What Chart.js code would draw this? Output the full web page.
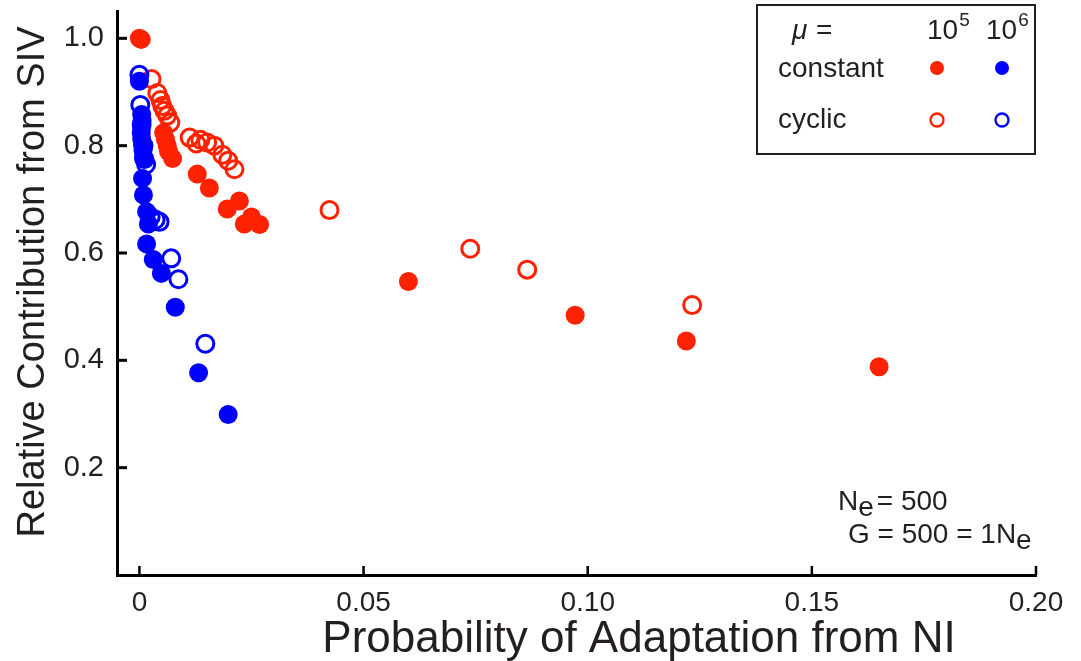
<!DOCTYPE html>
<html><head><meta charset="utf-8">
<script src="https://cdn.jsdelivr.net/npm/chart.js@4/dist/chart.umd.min.js"></script>
<style>html,body{margin:0;padding:0;background:#fff}#wrap{width:1081px;height:661px}</style>
</head><body><div id="wrap"><canvas id="c" width="1081" height="661"></canvas></div>
<script>
// ---- data ----
const redConstX = [0, 0.0004, 0.0054, 0.0058, 0.0062, 0.0065, 0.0074, 0.0129, 0.0156, 0.0196, 0.0223, 0.0234, 0.025, 0.0268, 0.060, 0.0972, 0.122, 0.165];
const redConstY = [1.0, 0.998, 0.824, 0.812, 0.800, 0.789, 0.776, 0.747, 0.721, 0.682, 0.697, 0.654, 0.667, 0.653, 0.547, 0.484, 0.436, 0.388];
const redCycX = [0.0027, 0.004, 0.0047, 0.0051, 0.0056, 0.0062, 0.0069, 0.0112, 0.0127, 0.0136, 0.0151, 0.0167, 0.0185, 0.0198, 0.0212, 0.0424, 0.0738, 0.0865, 0.1233];
const redCycY = [0.924, 0.898, 0.885, 0.874, 0.865, 0.856, 0.843, 0.815, 0.804, 0.811, 0.806, 0.800, 0.783, 0.772, 0.756, 0.680, 0.608, 0.569, 0.503];
const blueConstX = [0, 0.0005, 0.0006, 0.0005, 0.0004, 0.0005, 0.0007, 0.0008, 0.0009, 0.0007, 0.0009, 0.0016, 0.002, 0.0016, 0.0031, 0.0049, 0.008, 0.0132, 0.0198];
const blueConstY = [0.92, 0.858, 0.847, 0.835, 0.824, 0.813, 0.802, 0.791, 0.778, 0.739, 0.708, 0.677, 0.654, 0.617, 0.588, 0.562, 0.499, 0.377, 0.299];
const blueCycX = [0, 0.0002, 0.0005, 0.0009, 0.0011, 0.0015, 0.0025, 0.0036, 0.0045, 0.0071, 0.0087, 0.0147];
const blueCycY = [0.932, 0.876, 0.84, 0.80, 0.775, 0.765, 0.667, 0.662, 0.658, 0.590, 0.551, 0.431];
const xTicks = [0, 0.05, 0.10, 0.15, 0.20];
const xTickLabels = ["0", "0.05", "0.10", "0.15", "0.20"];
const yTicks = [0.2, 0.4, 0.6, 0.8, 1.0];
const yTickLabels = ["0.2", "0.4", "0.6", "0.8", "1.0"];
const xTitle = 'Probability of Adaptation from NI';
const yTitle = 'Relative Contribution from SIV';

const RED = 'rgb(255,34,0)';
const BLUE = 'rgb(0,0,255)';
const TXT = '#231f20';
const FAM = '"Liberation Sans", Arial, sans-serif';
const zip = (xs, ys) => xs.map((x, i) => ({x, y: ys[i]}));

const inwardTicks = {
  id: 'inwardTicks',
  afterDraw(chart) {
    const ctx = chart.ctx, xs = chart.scales.x, ys = chart.scales.y, a = chart.chartArea;
    ctx.save();
    ctx.strokeStyle = '#000';
    ctx.lineWidth = 3;
    yTicks.forEach(v => { const p = ys.getPixelForValue(v); ctx.beginPath(); ctx.moveTo(a.left, p); ctx.lineTo(a.left + 10, p); ctx.stroke(); });
    ctx.lineWidth = 2.5;
    xTicks.forEach(v => { const p = xs.getPixelForValue(v); ctx.beginPath(); ctx.moveTo(p, a.bottom); ctx.lineTo(p, a.bottom - 9); ctx.stroke(); });
    ctx.restore();
  }
};

const annotations = {
  id: 'annotations',
  afterDraw(chart) {
    const ctx = chart.ctx;
    ctx.save();
    ctx.fillStyle = TXT;
    ctx.textBaseline = 'alphabetic';
    ctx.textAlign = 'left';
    // axis titles
    ctx.font = '44px ' + FAM;
    ctx.textAlign = 'center';
    ctx.fillText(xTitle, 639, 652);
    ctx.save();
    ctx.translate(44, 282);
    ctx.rotate(-Math.PI / 2);
    ctx.font = '38px ' + FAM;
    ctx.fillText(yTitle, 0, 0);
    ctx.restore();
    ctx.textAlign = 'left';
    // legend box
    const f = '28px ' + FAM;
    ctx.strokeStyle = TXT; ctx.lineWidth = 2;
    ctx.strokeRect(757, 5, 278, 149);
    ctx.font = 'italic 28px ' + FAM;
    ctx.fillText('\u03bc', 792, 39);
    ctx.font = f;
    ctx.fillText('=', 816, 39);
    const w10 = ctx.measureText('10').width;
    ctx.fillText('10', 927, 39);
    ctx.fillText('10', 986, 39);
    ctx.font = '19px ' + FAM;
    ctx.fillText('5', 927 + w10 + 1, 26);
    ctx.fillText('6', 986 + w10 + 1, 26);
    ctx.font = f;
    ctx.fillText('constant', 778, 77);
    ctx.fillText('cyclic', 778, 128);
    const dot = (x, y, c, fill) => { ctx.beginPath(); ctx.arc(x, y, fill ? 7 : 6.5, 0, Math.PI * 2); if (fill) { ctx.fillStyle = c; ctx.fill(); } else { ctx.strokeStyle = c; ctx.lineWidth = 2.3; ctx.stroke(); } };
    dot(937, 68, RED, true); dot(1002, 68, BLUE, true);
    dot(937, 120, RED, false); dot(1002, 120, BLUE, false);
    // Ne annotation
    ctx.fillStyle = TXT;
    ctx.font = f;
    let x = 838;
    ctx.fillText('N', x, 510); x += ctx.measureText('N').width;
    ctx.fillText('e', x, 516); x += ctx.measureText('e').width + 3;
    ctx.fillText('= 500', x, 510);
    x = 848;
    ctx.fillText('G = 500 = 1N', x, 543); x += ctx.measureText('G = 500 = 1N').width;
    ctx.fillText('e', x, 549);
    ctx.restore();
  }
};

new Chart(document.getElementById('c'), {
  type: 'scatter',
  data: {
    datasets: [
      {label: 'cyclic 1e6', data: zip(blueCycX, blueCycY), pointRadius: 8.5, pointBorderWidth: 3, borderColor: BLUE, backgroundColor: 'rgba(0,0,0,0)', pointHoverRadius: 8.5},
      {label: 'constant 1e6', data: zip(blueConstX, blueConstY), pointRadius: 9.5, pointBorderWidth: 0, borderColor: BLUE, backgroundColor: BLUE, pointHoverRadius: 9.5},
      {label: 'cyclic 1e5', data: zip(redCycX, redCycY), pointRadius: 8.5, pointBorderWidth: 3, borderColor: RED, backgroundColor: 'rgba(0,0,0,0)', pointHoverRadius: 8.5},
      {label: 'constant 1e5', data: zip(redConstX, redConstY), pointRadius: 9.5, pointBorderWidth: 0, borderColor: RED, backgroundColor: RED, pointHoverRadius: 9.5}
    ]
  },
  options: {
    responsive: false,
    animation: false,
    events: [],
    clip: false,
    layout: {padding: {top: 8, right: 45, left: 0, bottom: 0}},
    plugins: {legend: {display: false}, tooltip: {enabled: false}},
    scales: {
      x: {
        type: 'linear', min: -0.005, max: 0.2,
        afterBuildTicks: s => { s.ticks = xTicks.map(v => ({value: v})); },
        afterFit: s => { s.height = 86; s.paddingLeft = 0; s.paddingRight = 0; },
        grid: {display: false, drawTicks: false},
        border: {display: true, color: '#000', width: 3},
        ticks: {padding: 11, color: TXT, maxRotation: 0, autoSkip: false,
          font: {family: '"Liberation Sans Narrow", "Liberation Sans", Arial', size: 28},
          callback: (v) => { const i = xTicks.findIndex(t => Math.abs(t - v) < 1e-9); return i >= 0 ? xTickLabels[i] : ''; }},
        title: {display: false}
      },
      y: {
        type: 'linear', min: 0, max: 1.05,
        afterBuildTicks: s => { s.ticks = yTicks.map(v => ({value: v})); },
        afterFit: s => { s.width = 117; s.paddingTop = 0; s.paddingBottom = 0; },
        grid: {display: false, drawTicks: false},
        border: {display: true, color: '#000', width: 3},
        ticks: {padding: 13, color: TXT, autoSkip: false,
          font: {family: FAM, size: 29},
          callback: (v) => { const i = yTicks.findIndex(t => Math.abs(t - v) < 1e-9); return i >= 0 ? yTickLabels[i] : ''; }},
        title: {display: false}
      }
    }
  },
  plugins: [inwardTicks, annotations]
});
</script>
</body></html>
